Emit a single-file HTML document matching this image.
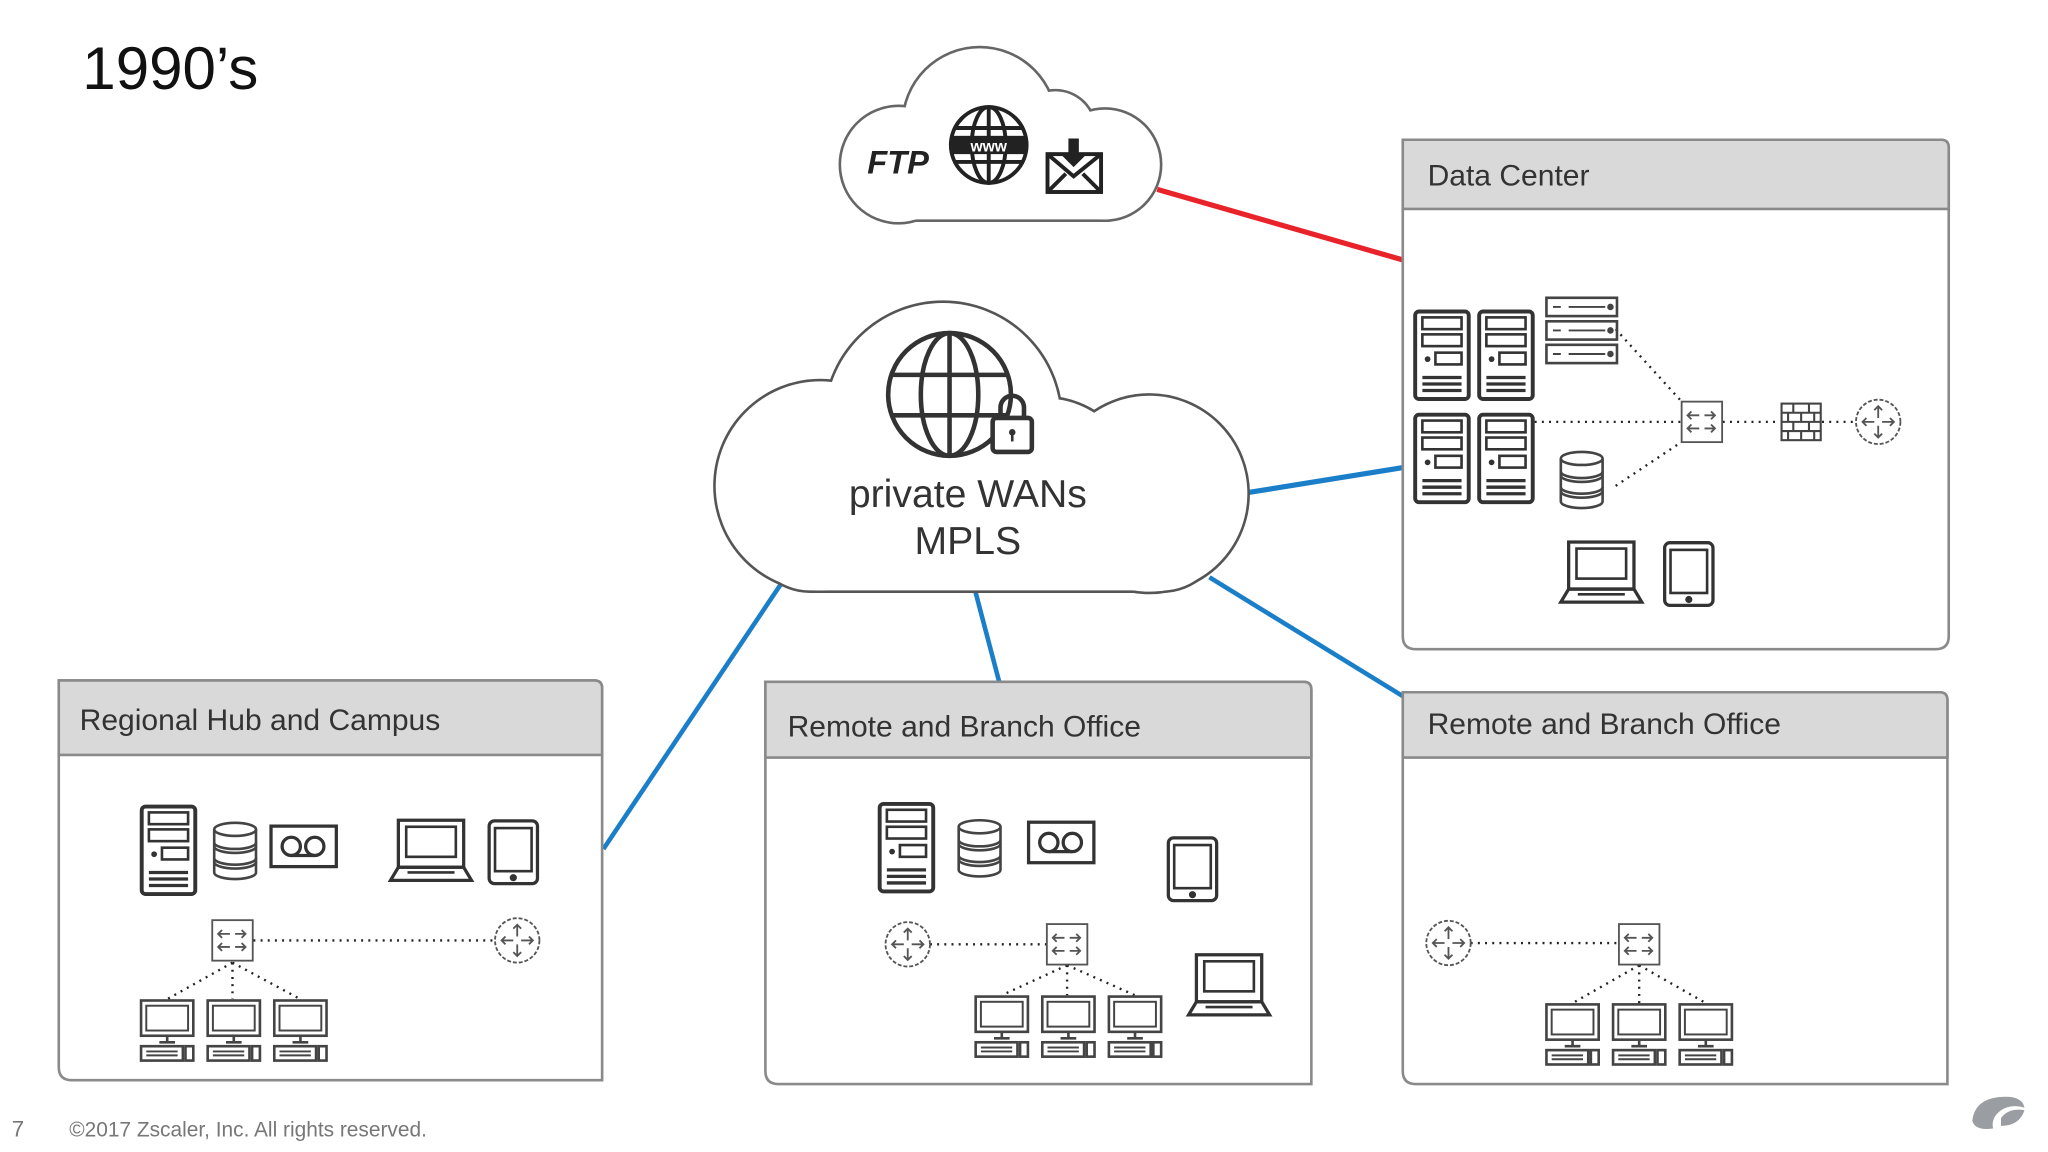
<!DOCTYPE html>
<html><head><meta charset="utf-8"><style>
html,body{margin:0;padding:0;background:#fff;}
svg{display:block;}
text{font-family:"Liberation Sans",sans-serif;}
</style></head><body>
<svg width="2048" height="1152" viewBox="0 0 1568 882" preserveAspectRatio="none" xmlns="http://www.w3.org/2000/svg">
<defs>
<g id="server" fill="none" stroke="#333">
<rect x="1.5" y="1.5" width="41" height="67" rx="3" stroke-width="3"/>
<rect x="7" y="6" width="30" height="9" stroke-width="2"/>
<rect x="7" y="19" width="30" height="9" stroke-width="2"/>
<circle cx="11" cy="38" r="2.2" fill="#333" stroke="none"/>
<rect x="17" y="33" width="20" height="9" stroke-width="2"/>
<path d="M7 52H37M7 57H37M7 62H37" stroke-width="2.5"/>
</g>
<g id="db" fill="#fff" stroke="#444" stroke-width="2">
<path d="M1 7V40A16 5 0 0 0 33 40V7"/>
<ellipse cx="17" cy="7" rx="16" ry="5"/>
<path d="M1 17A16 5 0 0 0 33 17M1 20A16 5 0 0 0 33 20M1 29A16 5 0 0 0 33 29M1 32A16 5 0 0 0 33 32" fill="none"/>
</g>
<g id="tape" fill="none" stroke="#333" stroke-width="2.5">
<rect x="1.5" y="1.5" width="50" height="31"/>
<circle cx="17" cy="17" r="7"/><circle cx="35" cy="17" r="7"/>
<path d="M17 24H35"/>
</g>
<g id="laptop" fill="none" stroke="#333" stroke-width="2.5">
<rect x="7" y="1" width="50" height="36"/>
<rect x="13" y="6" width="38" height="23" stroke-width="2"/>
<path d="M7 37L1 47H63L57 37Z"/>
<path d="M14 41H50" stroke-width="2"/>
</g>
<g id="tablet" fill="none" stroke="#333" stroke-width="2.5">
<rect x="1.5" y="1.5" width="37" height="48" rx="4"/>
<rect x="6" y="7" width="28" height="33" stroke-width="2"/>
<circle cx="20" cy="45" r="1.5" fill="#333"/>
</g>
<g id="switch" fill="none" stroke="#555" stroke-width="1.4">
<rect x="0.5" y="0.5" width="31" height="31"/>
<path d="M6 11H14M8 8L5 11L8 14M18 11H26M23 8L26 11L23 14M6 21H14M8 18L5 21L8 24M18 21H26M23 18L26 21L23 24"/>
</g>
<g id="router" fill="none" stroke="#555" stroke-width="1.4">
<circle cx="18" cy="18" r="17" stroke-dasharray="3 1.5"/>
<path d="M18 6V15M15 9L18 6L21 9M18 21V30M15 27L18 30L21 27M6 18H15M9 15L6 18L9 21M21 18H30M27 15L30 18L27 21"/>
</g>
<g id="pc" fill="none" stroke="#444" stroke-width="2">
<rect x="1" y="1" width="40" height="27"/>
<rect x="5" y="5" width="32" height="19" stroke-width="1.5"/>
<path d="M21 28V33M15 33H27"/>
<rect x="1" y="36" width="32" height="11"/>
<path d="M5 40H29M5 43H29" stroke-width="1.5"/>
<rect x="35" y="36" width="6" height="11"/>
</g>
<g id="rack" fill="none" stroke="#444" stroke-width="2">
<rect x="1" y="1" width="54" height="14"/>
<path d="M6 8H12M18 8H46" stroke-width="1.5"/>
<circle cx="50" cy="8" r="1.5" fill="#444"/>
</g>
<g id="fw" fill="none" stroke="#444" stroke-width="1.6">
<rect x="1" y="1" width="30" height="28"/>
<path d="M1 8H31M1 15H31M1 22H31M10 1V8M22 1V8M6 8V15M16 8V15M26 8V15M10 15V22M22 15V22M6 22V29M16 22V29M26 22V29"/>
</g>
</defs>

<text x="63" y="68" font-size="46" fill="#111">1990’s</text>

<!-- connectors -->
<line x1="886" y1="145" x2="1074" y2="199" stroke="#e8232a" stroke-width="4"/>
<line x1="950" y1="378" x2="1074" y2="358" stroke="#1a7fc8" stroke-width="4"/>
<line x1="598" y1="447" x2="462" y2="650" stroke="#1a7fc8" stroke-width="3.5"/>
<line x1="746" y1="450" x2="765" y2="522" stroke="#1a7fc8" stroke-width="3.5"/>
<line x1="926" y1="442" x2="1074" y2="533" stroke="#1a7fc8" stroke-width="3.5"/>

<!-- FTP cloud -->
<g stroke="#666" stroke-width="4">
<circle cx="750" cy="95" r="58"/><circle cx="688" cy="126" r="44"/><circle cx="808" cy="100" r="30"/><circle cx="846" cy="126" r="42"/><rect x="660" y="120" width="210" height="48" rx="24"/>
</g>
<g fill="#fff">
<circle cx="750" cy="95" r="58"/><circle cx="688" cy="126" r="44"/><circle cx="808" cy="100" r="30"/><circle cx="846" cy="126" r="42"/><rect x="660" y="120" width="210" height="48" rx="24"/>
</g>
<text x="664" y="133" font-size="25" font-weight="bold" font-style="italic" fill="#222">FTP</text>
<g fill="none" stroke="#222" stroke-width="3">
<circle cx="757" cy="111" r="29"/>
<ellipse cx="757" cy="111" rx="13" ry="29"/>
<path d="M757 82V140M730 98H784M730 124H784"/>
</g>
<rect x="729" y="104" width="57" height="14" fill="#222"/>
<text x="757" y="116" font-size="12" fill="#fff" text-anchor="middle" font-weight="bold">www</text>
<g fill="none" stroke="#222" stroke-width="3">
<rect x="802" y="118" width="41" height="29"/>
<path d="M802 118L822 135L843 118M802 147L816 133M843 147L829 133"/>
</g>
<path d="M818 106H826V118H832L822 128L812 118H818Z" fill="#222"/>

<!-- big cloud -->
<g stroke="#555" stroke-width="4">
<circle cx="722" cy="322" r="90"/><circle cx="628" cy="372" r="80"/><circle cx="880" cy="378" r="75"/><rect x="575" y="360" width="360" height="92" rx="45"/><circle cx="800" cy="375" r="70"/>
</g>
<g fill="#fff">
<circle cx="722" cy="322" r="90"/><circle cx="628" cy="372" r="80"/><circle cx="880" cy="378" r="75"/><rect x="575" y="360" width="360" height="92" rx="45"/><circle cx="800" cy="375" r="70"/>
</g>
<g fill="none" stroke="#333" stroke-width="3.5">
<circle cx="727" cy="302" r="47"/>
<ellipse cx="727" cy="302" rx="22" ry="47"/>
<path d="M727 255V349M682 287H772M682 318H772"/>
</g>
<rect x="760" y="320" width="30" height="26" rx="3" fill="#fff" stroke="#333" stroke-width="3.5"/>
<path d="M766 320V312A9 9 0 0 1 784 312V320" fill="none" stroke="#333" stroke-width="3.5"/>
<circle cx="775" cy="331" r="2.5" fill="#333"/><rect x="774" y="331" width="2" height="7" fill="#333"/>
<text x="741" y="388" font-size="30" fill="#333" text-anchor="middle">private WANs</text>
<text x="741" y="424" font-size="30" fill="#333" text-anchor="middle">MPLS</text>

<!-- boxes -->
<g fill="#fff" stroke="#8a8a8a" stroke-width="2">
<path d="M1074 107H1486Q1492 107 1492 113V487Q1492 497 1482 497H1084Q1074 497 1074 487Z"/>
<path d="M45 521H455Q461 521 461 527V827H55Q45 827 45 817Z"/>
<path d="M586 522H998Q1004 522 1004 528V830H596Q586 830 586 820Z"/>
<path d="M1074 530H1485Q1491 530 1491 536V830H1084Q1074 830 1074 820Z"/>
</g>
<g fill="#d9d9d9" stroke="#8a8a8a" stroke-width="2">
<path d="M1074 107H1486Q1492 107 1492 113V160H1074Z"/>
<path d="M45 521H455Q461 521 461 527V578H45Z"/>
<path d="M586 522H998Q1004 522 1004 528V580H586Z"/>
<path d="M1074 530H1485Q1491 530 1491 536V580H1074Z"/>
</g>
<g font-size="23" fill="#333">
<text x="1093" y="142">Data Center</text>
<text x="61" y="559">Regional Hub and Campus</text>
<text x="603" y="564">Remote and Branch Office</text>
<text x="1093" y="562">Remote and Branch Office</text>
</g>

<!-- dotted links -->
<g stroke="#222" stroke-width="1.8" stroke-dasharray="1.5 4" fill="none">
<path d="M194 720H378M178 737L128 765M178 737V765M178 737L230 765"/>
<path d="M712 723H801M817 739L767 762M817 739V762M817 739L869 762"/>
<path d="M1126 722H1239M1255 739L1204 768M1255 739V768M1255 739L1306 768"/>
<path d="M1237 252L1288 308M1175 323H1287M1237 372L1288 338M1319 323H1363M1395 323H1421"/>
</g>

<!-- Regional -->
<use href="#server" x="107" y="616"/>
<use href="#db" x="163" y="628"/>
<use href="#tape" x="206" y="631"/>
<use href="#laptop" x="298" y="627"/>
<use href="#tablet" x="373" y="627"/>
<use href="#switch" x="162" y="704"/>
<use href="#router" x="378" y="702"/>
<use href="#pc" x="107" y="765"/><use href="#pc" x="158" y="765"/><use href="#pc" x="209" y="765"/>

<!-- Remote 1 -->
<use href="#server" x="672" y="614"/>
<use href="#db" x="733" y="626"/>
<use href="#tape" x="786" y="628"/>
<use href="#tablet" x="893" y="640"/>
<use href="#router" x="677" y="705"/>
<use href="#switch" x="801" y="707"/>
<use href="#laptop" x="909" y="730"/>
<use href="#pc" x="746" y="762"/><use href="#pc" x="797" y="762"/><use href="#pc" x="848" y="762"/>

<!-- Remote 2 -->
<use href="#router" x="1091" y="704"/>
<use href="#switch" x="1239" y="707"/>
<use href="#pc" x="1183" y="768"/><use href="#pc" x="1234" y="768"/><use href="#pc" x="1285" y="768"/>

<!-- Data center -->
<use href="#server" x="1082" y="237"/><use href="#server" x="1131" y="237"/>
<use href="#server" x="1082" y="316"/><use href="#server" x="1131" y="316"/>
<use href="#rack" x="1183" y="227"/><use href="#rack" x="1183" y="245"/><use href="#rack" x="1183" y="263"/>
<use href="#db" x="1194" y="344"/>
<use href="#laptop" x="1194" y="414"/>
<use href="#tablet" x="1273" y="414"/>
<use href="#switch" x="1287" y="307"/>
<use href="#fw" x="1363" y="308"/>
<use href="#router" x="1420" y="305"/>

<!-- footer -->
<text x="9" y="870" font-size="17" fill="#777">7</text>
<text x="53" y="870" font-size="16" fill="#777">©2017 Zscaler, Inc. All rights reserved.</text>
<g fill="#9a9ea3">
<path d="M1510 858Q1512 842 1530 840Q1548 838 1550 848Q1540 845 1532 850Q1524 856 1526 864Q1512 866 1510 858Z"/>
<path d="M1532 856Q1538 848 1550 850Q1546 862 1532 862Z"/>
</g>
</svg>
</body></html>
